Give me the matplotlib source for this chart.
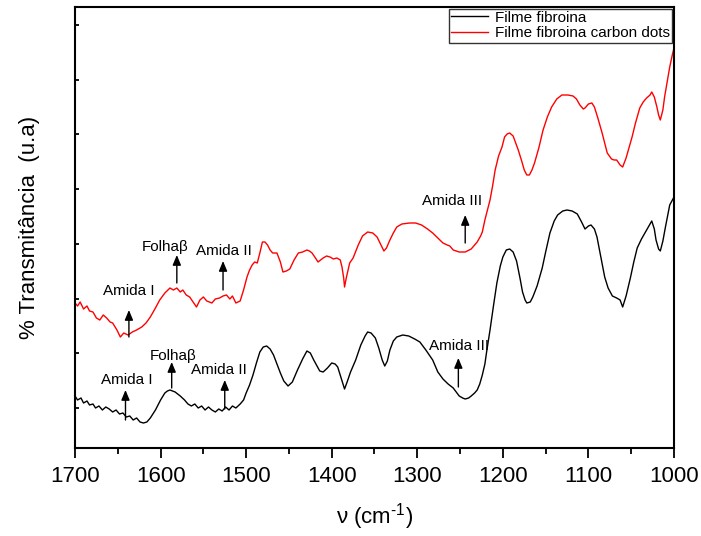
import numpy as np
import matplotlib
matplotlib.use("Agg")
import matplotlib.pyplot as plt
from matplotlib.ticker import MultipleLocator, NullFormatter

plt.rcParams['font.family'] = ['Liberation Sans', 'DejaVu Sans']
plt.rcParams['mathtext.fontset'] = 'custom'
plt.rcParams['mathtext.rm'] = 'Liberation Sans'

# ---- data (wavenumber in cm-1, transmittance in arbitrary units) ----
black_wn = [1700, 1697, 1693, 1690, 1686, 1683, 1679, 1676, 1672, 1668,
            1664, 1660, 1656, 1652, 1648, 1644, 1640, 1636, 1632, 1628,
            1624, 1620, 1616, 1612, 1606, 1600, 1595, 1592, 1589, 1586,
            1583, 1577, 1572, 1568, 1564, 1560, 1556, 1552, 1548, 1544,
            1540, 1536, 1532, 1528, 1524, 1520, 1516, 1512, 1507, 1503,
            1500, 1496, 1492, 1488, 1484, 1480, 1476, 1472, 1468, 1464,
            1460, 1456, 1451, 1446, 1440, 1434, 1429, 1425, 1421, 1414,
            1410, 1405, 1400, 1396, 1393, 1389, 1385, 1382, 1378, 1372,
            1366, 1361, 1358, 1354, 1349, 1345, 1341, 1338, 1335, 1332,
            1328, 1324, 1317, 1310, 1303, 1297, 1290, 1282, 1276, 1270,
            1264, 1258, 1251, 1247, 1244, 1240, 1237, 1233, 1230, 1227,
            1224, 1221, 1219, 1215, 1211, 1207, 1203, 1200, 1196, 1192,
            1188, 1184, 1180, 1177, 1174, 1172, 1168, 1165, 1160, 1154,
            1150, 1145, 1140, 1136, 1130, 1125, 1119, 1113, 1108, 1104,
            1100, 1097, 1093, 1090, 1086, 1081, 1077, 1072, 1067, 1063,
            1060, 1056, 1051, 1047, 1043, 1038, 1034, 1030, 1026, 1023,
            1021, 1018, 1016, 1013, 1010, 1005, 1000]
black_t = [52, 48, 50, 45, 47, 43, 44, 40, 42, 38,
           41, 39, 36, 38, 34, 35, 31, 32, 28, 30,
           26, 25, 26, 30, 38, 48, 55, 57, 58, 57,
           56, 52, 48, 44, 42, 44, 40, 42, 38, 41,
           38, 36, 39, 37, 41, 38, 42, 40, 44, 48,
           55, 63, 73, 85, 96, 101, 102, 99, 93, 84,
           75, 67, 62, 66, 78, 89, 97, 95, 88, 77,
           76, 80, 85, 84, 81, 70, 59, 66, 76, 88,
           103, 112, 116, 115, 110, 100, 88, 82, 87, 98,
           107, 111, 113, 112, 109, 106, 98, 88, 76, 69,
           64, 60, 52, 50, 49, 50, 52, 55, 58, 64,
           73, 84, 96, 118, 142, 165, 182, 191, 198, 199,
           196, 187, 170, 156, 148, 145, 146, 151, 162, 180,
           196, 215, 227, 233, 237, 238, 237, 234, 226, 219,
           222, 223, 219, 211, 193, 171, 160, 152, 150, 148,
           141, 152, 170, 186, 200, 209, 215, 221, 227, 219,
           208, 199, 197, 207, 221, 243, 251]

red_wn = [1700, 1697, 1694, 1690, 1686, 1683, 1679, 1675, 1671, 1667,
          1663, 1659, 1656, 1651, 1647, 1643, 1638, 1633, 1628, 1622,
          1617, 1612, 1606, 1601, 1595, 1589, 1585, 1581, 1577, 1574,
          1570, 1566, 1562, 1558, 1554, 1550, 1546, 1540, 1536, 1531,
          1527, 1523, 1519, 1516, 1512, 1507, 1503, 1499, 1496, 1493,
          1490, 1487, 1484, 1481, 1478, 1475, 1472, 1469, 1464, 1460,
          1457, 1453, 1449, 1444, 1439, 1434, 1429, 1426, 1423, 1419,
          1416, 1413, 1410, 1406, 1402, 1398, 1394, 1390, 1388, 1386,
          1385, 1383, 1379, 1375, 1369, 1364, 1358, 1352, 1347, 1343,
          1339, 1336, 1332, 1328, 1324, 1318, 1309, 1302, 1295, 1288,
          1282, 1276, 1270, 1265, 1262, 1258, 1251, 1244, 1237, 1230,
          1226, 1224, 1221, 1218, 1215, 1212, 1209, 1205, 1201, 1198,
          1195, 1192, 1188, 1185, 1182, 1178, 1175, 1172, 1169, 1166,
          1163, 1158, 1153, 1148, 1143, 1137, 1131, 1124, 1118, 1114,
          1110, 1106, 1104, 1100, 1096, 1093, 1089, 1084, 1078, 1073,
          1070, 1067, 1063, 1060, 1056, 1052, 1049, 1045, 1040, 1036,
          1032, 1028, 1026, 1023, 1020, 1018, 1016, 1013, 1011, 1008,
          1005, 1002, 1000]
red_t = [145, 142, 146, 139, 142, 137, 136, 130, 128, 133,
         130, 126, 125, 118, 111, 115, 113, 116, 118, 121,
         125, 131, 140, 148, 155, 160, 158, 160, 156, 158,
         153, 151, 146, 141, 148, 151, 147, 145, 149, 150,
         152, 153, 149, 152, 145, 147, 158, 171, 178, 183,
         186, 185, 195, 206, 206, 203, 198, 195, 195, 186,
         176, 177, 179, 188, 195, 196, 198, 197, 195, 190,
         186, 188, 190, 192, 191, 189, 190, 188, 181, 170,
         161, 170, 185, 190, 203, 212, 216, 215, 211, 204,
         197, 200, 208, 215, 221, 224, 225, 225, 223, 219,
         215, 210, 205, 203, 202, 198, 196, 196, 199, 206,
         212, 216, 228, 238, 248, 262, 278, 292, 301, 311,
         314, 315, 312, 305, 298, 287, 278, 273, 273, 278,
         285, 300, 318, 331, 341, 349, 353, 353, 352, 349,
         343, 339, 340, 344, 345, 341, 330, 315, 295, 289,
         288, 288, 283, 281, 290, 302, 311, 325, 340, 346,
         350, 353, 356, 351, 341, 333, 328, 338, 351, 366,
         381, 393, 400]

series_labels = ["Filme fibroina", "Filme fibroina carbon dots"]
x_ticks = [1700, 1600, 1500, 1400, 1300, 1200, 1100, 1000]

# annotations: (label, text x, text y, arrow x, arrow tail y, arrow head y)
annotations = [
    ("Amida I",   1637, 157, 1637, 111, 138),
    ("Folhaβ",    1595, 201, 1581, 165, 193),
    ("Amida II",  1526, 197, 1527, 158, 187),
    ("Amida III", 1259, 247, 1244, 205, 233),
    ("Amida I",   1640, 68, 1641, 28, 58),
    ("Folhaβ",    1585, 92, 1587, 60, 86),
    ("Amida II",  1532, 78, 1525, 39, 68),
    ("Amida III", 1251, 102, 1252, 61, 90),
]

fig = plt.figure(figsize=(7.01, 5.36), dpi=100)
ax = fig.add_axes([75/701, 1-448/536, 599/701, 441/536])

ax.plot(black_wn, black_t, color='black', lw=1.0, label=series_labels[0])
ax.plot(red_wn, red_t, color='#ff0000', lw=1.0, label=series_labels[1])

ax.set_xlim(1700, 1000)
ax.set_ylim(0, 441)
ax.set_xticks(x_ticks)
ax.xaxis.set_minor_locator(MultipleLocator(50))
ax.set_yticks(np.arange(40, 441, 54.75))
ax.yaxis.set_major_formatter(NullFormatter())

ax.tick_params(axis='x', which='major', direction='out', length=7, width=1.3,
               labelsize=16, pad=6, top=False)
ax.tick_params(axis='x', which='minor', direction='out', length=4, width=1.3, top=False)
ax.tick_params(axis='y', which='major', direction='in', length=3, width=1.3,
               left=True, right=False)
for s in ax.spines.values():
    s.set_linewidth(1.5)

ax.set_xlabel('ν (cm$^{\\text{-1}}$)', fontsize=16, labelpad=10)
ax.set_ylabel('% Transmitância  (u.a)', fontsize=16, labelpad=22)

for lab, tx, ty, axx, t0, t1 in annotations:
    ax.text(tx, ty, lab, fontsize=11, ha='center', va='center')
    ax.annotate('', xy=(axx, t1), xytext=(axx, t0),
                arrowprops=dict(arrowstyle='-|>,head_length=0.6,head_width=0.25',
                                color='black', lw=1.0, mutation_scale=10,
                                shrinkA=0, shrinkB=0))

leg = ax.legend(loc='upper right', fontsize=11, frameon=True, fancybox=False,
                borderaxespad=0.1, borderpad=0.15, handlelength=2.4,
                handletextpad=0.5, labelspacing=0.1)
leg.get_frame().set_edgecolor('black')
leg.get_frame().set_linewidth(1.0)

fig.savefig('out.png', dpi=100)
